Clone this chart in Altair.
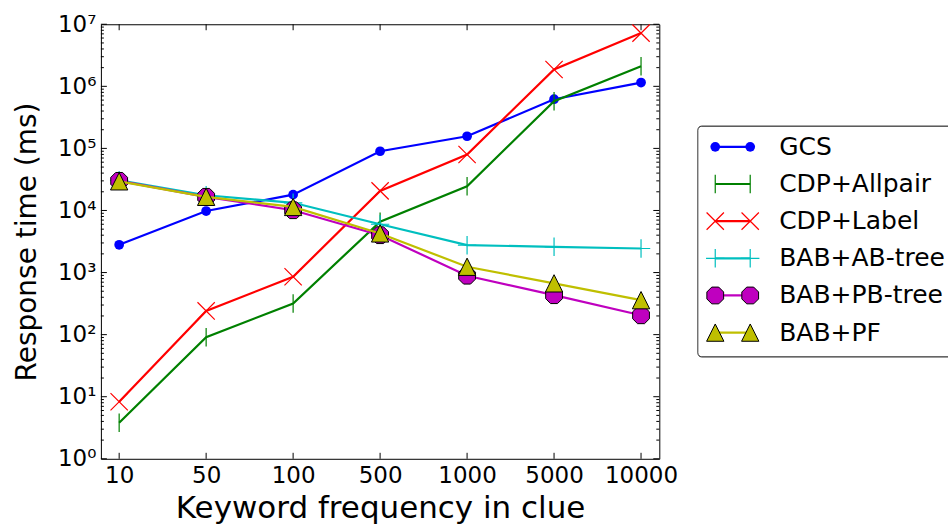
import altair as alt
import pandas as pd

# ---- data ----
freqs = ["10", "50", "100", "500", "1000", "5000", "10000"]
series_names = ["GCS", "CDP+Allpair", "CDP+Label", "BAB+AB-tree", "BAB+PB-tree", "BAB+PF"]
gcs = [2800, 9800, 18000, 90000, 157000, 620000, 1150000]
cdp_allpair = [3.8, 91, 318, 6600, 24600, 575000, 2100000]
cdp_label = [8.3, 241, 855, 20700, 79700, 1870000, 7200000]
bab_ab = [30700, 17600, 13300, 6000, 2760, 2600, 2440]
bab_pb = [30000, 16600, 10100, 4000, 890, 432, 205]
bab_pf = [29500, 16600, 11400, 4270, 1240, 670, 359]
series_values = [gcs, cdp_allpair, cdp_label, bab_ab, bab_pb, bab_pf]
colors = ["#0000ff", "#008000", "#ff0000", "#00bfbf", "#bf00bf", "#bfbf00"]

major_y = [10 ** k for k in range(8)]
minor_y = [m * 10 ** k for k in range(7) for m in range(2, 10)]

FONT = "DejaVu Sans"
W, H = 559, 435

OCT = ("M0.383,-0.924L0.924,-0.383L0.924,0.383L0.383,0.924L-0.383,0.924"
       "L-0.924,0.383L-0.924,-0.383L-0.383,-0.924Z")
VBAR = "M0,-1L0,1"
XMARK = "M-1,-1L1,1M-1,1L1,-1"
PLUS = "M-1,0L1,0M0,-1L0,1"
TRI = "M0,-1L-1,1L1,1Z"


def point_mark(i):
    c = colors[i]
    if i == 0:
        return dict(shape="circle", size=95, filled=True, fill=c, strokeWidth=0, opacity=1)
    if i == 1:
        return dict(shape=VBAR, size=340, filled=False, stroke=c, strokeWidth=1.2, opacity=1)
    if i == 2:
        return dict(shape=XMARK, size=300, filled=False, stroke=c, strokeWidth=1.2, opacity=1)
    if i == 3:
        return dict(shape=PLUS, size=340, filled=False, stroke=c, strokeWidth=1.2, opacity=1)
    if i == 4:
        return dict(shape=OCT, size=330, filled=True, fill=c, stroke="black", strokeWidth=1, opacity=1)
    return dict(shape=TRI, size=300, filled=True, fill=c, stroke="black", strokeWidth=1, opacity=1)


x_scale = alt.Scale(type="point", domain=freqs, padding=0.21)
y_scale = alt.Scale(type="log", domain=[1, 1e7], nice=False)

y_label_expr = ("'10' + ['\u2070','\u00b9','\u00b2','\u00b3','\u2074','\u2075','\u2076','\u2077']"
                "[round(log(datum.value)/LN10)]")

x_axis = alt.Axis(title="Keyword frequency in clue", titleFontSize=31, titleFont=FONT,
                  titleFontWeight="normal", titleColor="black", titlePadding=6,
                  labelFontSize=23, labelFont=FONT, labelColor="black", labelAngle=0,
                  labelPadding=6, ticks=False, domain=False, grid=False)
y_axis = alt.Axis(title="Response time (ms)", titleFontSize=28, titleFont=FONT,
                  titleFontWeight="normal", titleColor="black", titlePadding=16,
                  labelFontSize=23, labelFont=FONT, labelColor="black",
                  labelPadding=5, ticks=False, domain=False, grid=False,
                  values=major_y, labelExpr=y_label_expr)

xenc_f = lambda f: alt.X(f, sort=freqs, scale=x_scale, axis=x_axis)
yenc_f = lambda f: alt.Y(f, scale=y_scale, axis=y_axis)

layers = []
for i, (name, vals) in enumerate(zip(series_names, series_values)):
    df = pd.DataFrame({"freq": freqs, "value": vals, "series": name})
    base = alt.Chart(df).encode(x=xenc_f("freq:O"), y=yenc_f("value:Q"))
    layers.append(base.mark_line(color=colors[i], strokeWidth=2.2))
    layers.append(base.mark_point(**point_mark(i)))

# inward ticks (matplotlib classic style)
ymaj = pd.DataFrame({"value": major_y})
ymin = pd.DataFrame({"value": minor_y})
xt = pd.DataFrame({"freq": freqs})
tick_layers = [
    alt.Chart(ymaj).mark_rule(color="black", strokeWidth=1).encode(y=yenc_f("value:Q"), x=alt.value(0), x2=alt.value(6)),
    alt.Chart(ymaj).mark_rule(color="black", strokeWidth=1).encode(y=yenc_f("value:Q"), x=alt.value(W), x2=alt.value(W - 6)),
    alt.Chart(ymin).mark_rule(color="black", strokeWidth=1).encode(y=yenc_f("value:Q"), x=alt.value(0), x2=alt.value(3)),
    alt.Chart(ymin).mark_rule(color="black", strokeWidth=1).encode(y=yenc_f("value:Q"), x=alt.value(W), x2=alt.value(W - 3)),
    alt.Chart(xt).mark_rule(color="black", strokeWidth=1).encode(x=xenc_f("freq:O"), y=alt.value(H), y2=alt.value(H - 6)),
    alt.Chart(xt).mark_rule(color="black", strokeWidth=1).encode(x=xenc_f("freq:O"), y=alt.value(0), y2=alt.value(6)),
]

main = alt.layer(*(layers + tick_layers)).properties(width=W, height=H)

# ---- manual legend (line + two markers per entry, boxed) ----
LW = 251
yL = alt.Y("series:N", sort=series_names,
           scale=alt.Scale(domain=series_names, range=[122.7, 308.7], padding=0), axis=None)
xL = alt.X("pos:Q", scale=alt.Scale(domain=[0, 1], range=[18, 53]), axis=None)

box = alt.Chart(pd.DataFrame({"series": [series_names[0]]})).mark_rect(
    fill="white", stroke="black", strokeWidth=1, cornerRadius=4, clip=True
).encode(x=alt.value(0.5), x2=alt.value(LW + 40), y=alt.value(102), y2=alt.value(333))

leg_layers = [box]
for i, name in enumerate(series_names):
    ldf = pd.DataFrame({"series": [name, name], "pos": [0, 1]})
    b = alt.Chart(ldf).encode(x=xL, y=yL)
    leg_layers.append(b.mark_line(color=colors[i], strokeWidth=2.2))
    leg_layers.append(b.mark_point(**point_mark(i)))

tdf = pd.DataFrame({"series": series_names})
leg_layers.append(
    alt.Chart(tdf).mark_text(align="left", baseline="middle", fontSize=25, font=FONT, color="black")
    .encode(x=alt.value(82), y=yL, text="series:N")
)

legend = alt.layer(*leg_layers).properties(
    width=LW, height=H, view=alt.ViewBackground(stroke="transparent")
)

chart = alt.hconcat(main, legend, spacing=18).properties(
    padding={"left": 13, "top": 12, "right": 0, "bottom": 0},
    background="white",
).configure(font=FONT).configure_view(stroke="black", strokeWidth=1)

chart.save("out.html", embed_options={"renderer": "svg", "actions": False})
